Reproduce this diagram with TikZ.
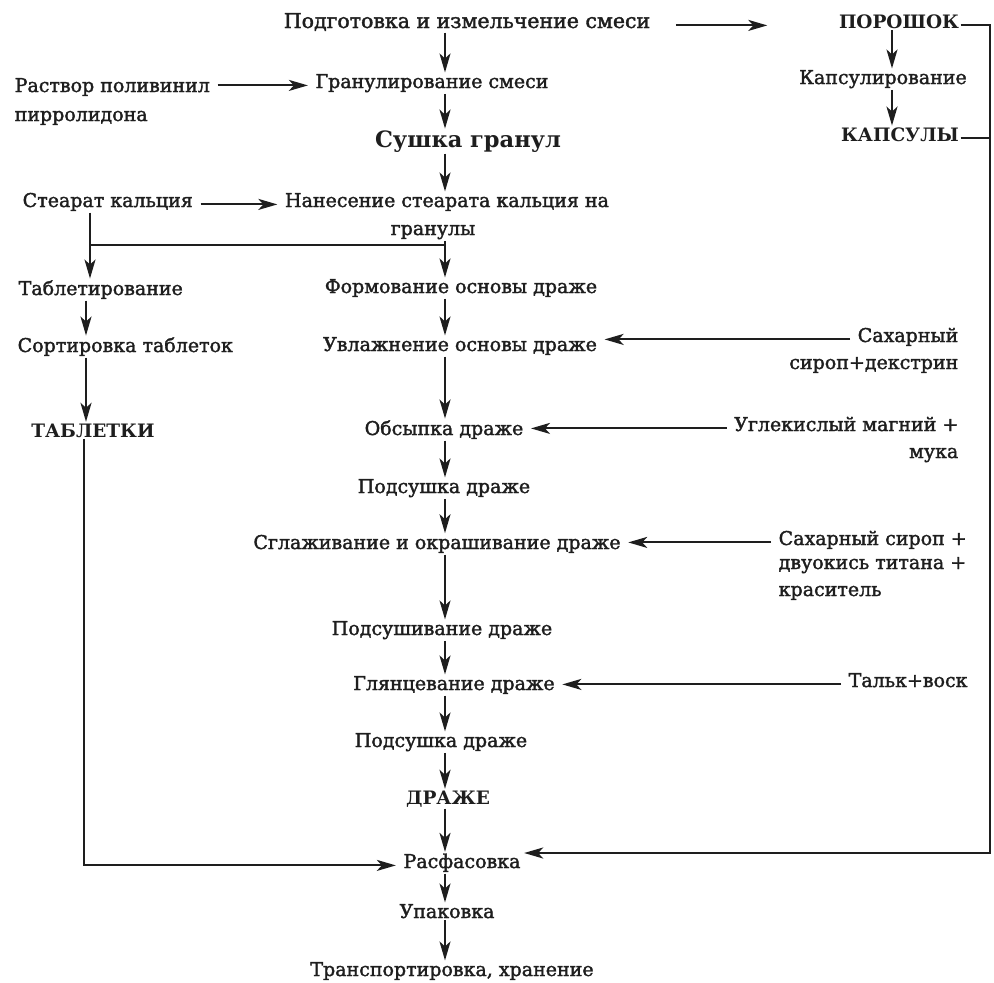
\documentclass[tikz,border=0pt]{standalone}
\usepackage{fontspec}
\setmainfont{DejaVu Serif}
\newfontfamily\regfont[FakeBold=1.8]{DejaVu Serif}
\usetikzlibrary{arrows.meta,calc}
\definecolor{ink}{HTML}{1E1E1E}
\begin{document}
\begin{tikzpicture}[x=1pt,y=-1pt,
  every node/.style={inner sep=1.5pt, text=ink, font=\regfont\fontsize{19}{23}\selectfont},
  lbl/.style={anchor=base},
  lblw/.style={anchor=base west},
  lble/.style={anchor=base east},
  big/.style={font=\rmfamily\fontsize{18.5}{22}\selectfont\bfseries},
  bigger/.style={font=\rmfamily\fontsize{22.5}{26}\selectfont\bfseries},
  wide/.style={font=\regfont\fontsize{20.5}{24}\selectfont},
  conn/.style={draw=ink, line width=2.1pt},
  arr/.style={conn, -{Stealth[length=19pt,width=11pt,inset=5pt]}},
  harr/.style={arr, shorten <=6pt, shorten >=6pt},
]
\fill[white] (0,0) rectangle (994,983);
\useasboundingbox (0,0) rectangle (994,983);

% column guides
\coordinate (col) at (445,0);
\coordinate (colK) at (892,0);
\coordinate (colL) at (86,0);
\coordinate (colT) at (84,0);
\coordinate (splitR) at (445,245);
\coordinate (splitL) at (90,245);
\coordinate (rasfR) at (990,853);

% top row
\node[lbl,wide] (podg) at (467,28) {Подготовка и измельчение смеси};
\node[lbl,big] (por) at (899,28) {ПОРОШОК};
\node[lbl] (kaps) at (883,84) {Капсулирование};
\node[lbl,big] (kapsuly) at (900,141) {КАПСУЛЫ};

% left inputs
\node[lblw] (rastA) at (13,92) {Раствор поливинил};
\node[lblw] (rastB) at (13,121) {пирролидона};
\node[lblw] (stear) at (21,207) {Стеарат кальция};

% main column
\node[lbl] (gran) at (432,88) {Гранулирование смеси};
\node[lbl,bigger] (sush) at (468,147) {Сушка гранул};
\node[lbl] (nanA) at (447,207) {Нанесение стеарата кальция на};
\node[lbl] (nanB) at (433,235) {гранулы};

% tablets branch
\node[lblw] (tablet) at (17,295) {Таблетирование};
\node[lblw] (sort) at (16,352) {Сортировка таблеток};
\node[lbl,big] (tabl) at (93,437) {ТАБЛЕТКИ};

% dragee branch
\node[lbl] (form) at (461,293) {Формование основы драже};
\node[lbl] (uvl) at (460,351) {Увлажнение основы драже};
\node[lble] (sahA) at (960,342) {Сахарный};
\node[lble] (sahB) at (960,369) {сироп+декстрин};
\node[lbl] (obs) at (444,435) {Обсыпка драже};
\node[lble] (uglA) at (960,431) {Углекислый магний +};
\node[lble] (uglB) at (960,458) {мука};
\node[lbl] (pods1) at (444,493) {Подсушка драже};
\node[lbl] (sgl) at (437,549) {Сглаживание и окрашивание драже};
\node[lblw] (sirA) at (777,545) {Сахарный сироп +};
\node[lblw] (sirB) at (777,569) {двуокись титана +};
\node[lblw] (sirC) at (777,596) {краситель};
\node[lbl] (podsv) at (442,635) {Подсушивание драже};
\node[lbl] (glyan) at (454,690) {Глянцевание драже};
\node[lblw] (talk) at (847,687) {Тальк+воск};
\node[lbl] (pods2) at (441,747) {Подсушка драже};
\node[lbl,big] (draje) at (448,804) {ДРАЖЕ};
\node[lbl] (rasf) at (462,868) {Расфасовка};
\node[lbl] (upak) at (447,918) {Упаковка};
\node[lbl] (trans) at (452,976) {Транспортировка, хранение};

% horizontal inputs
\draw[arr, shorten <=24pt, shorten >=70pt] (podg.mid east) -- (por.mid west |- podg.mid east);
\draw[harr] (rastA.east |- gran.mid west) -- (gran.mid west);
\draw[harr] (stear.mid east) -- (nanA.mid west |- stear.mid east);
\draw[harr] (sahA.mid west) -- (uvl.east |- sahA.mid west);
\draw[harr] (uglA.mid west) -- (obs.east |- uglA.mid west);
\draw[harr] (sirA.mid west) -- (sgl.east |- sirA.mid west);
\draw[harr] (talk.mid west) -- (glyan.east |- talk.mid west);

% capsule chain
\draw[arr] (por.south -| colK) -- (kaps.north -| colK);
\draw[arr] (kaps.south -| colK) -- (kapsuly.north -| colK);

% main vertical chain
\draw[arr] (podg.south -| col) -- (gran.north -| col);
\draw[arr] (gran.south -| col) -- (sush.north -| col);
\draw[arr] (sush.south -| col) -- (nanA.north -| col);
\draw[conn] (nanB.south -| col) -- (splitR) -- (splitL);
\draw[conn] (stear.south -| splitL) -- (splitL);
\draw[arr] (splitL) -- (tablet.north -| splitL);
\draw[arr] (splitR) -- (form.north -| splitR);

\draw[arr] (tablet.south -| colL) -- (sort.north -| colL);
\draw[arr] (sort.south -| colL) -- (tabl.north -| colL);

\draw[arr] (form.south -| col) -- (uvl.north -| col);
\draw[arr] (uvl.south -| col) -- (obs.north -| col);
\draw[arr] (obs.south -| col) -- (pods1.north -| col);
\draw[arr] (pods1.south -| col) -- (sgl.north -| col);
\draw[arr] (sgl.south -| col) -- (podsv.north -| col);
\draw[arr] (podsv.south -| col) -- (glyan.north -| col);
\draw[arr] (glyan.south -| col) -- (pods2.north -| col);
\draw[arr] (pods2.south -| col) -- (draje.north -| col);
\draw[arr] (draje.south -| col) -- (rasf.north -| col);
\draw[arr] (rasf.south -| col) -- (upak.north -| col);
\draw[arr] (upak.south -| col) -- (trans.north -| col);

% feeds into packing
\draw[arr, shorten >=6pt] (tabl.south -| colT) |- (rasf.mid west);
\draw[conn] (kapsuly.mid east) -- (kapsuly.mid east -| rasfR);
\draw[arr, shorten >=2pt] (por.mid east) -| (rasfR) -- (rasf.east |- rasfR);
\end{tikzpicture}
\end{document}
